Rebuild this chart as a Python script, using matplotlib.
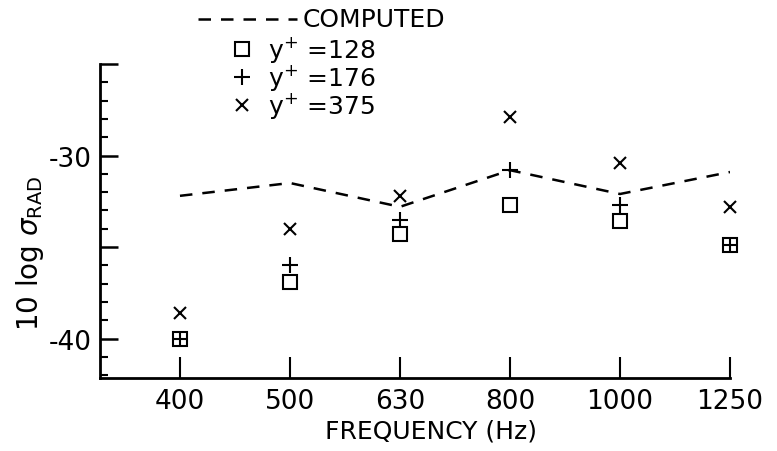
import matplotlib
matplotlib.use("Agg")
import matplotlib.pyplot as plt
from matplotlib.lines import Line2D
import numpy as np

# frequency bands (equally spaced on the plot)
freqs = ['400', '500', '630', '800', '1000', '1250']

# values (10 log sigma_RAD)
computed = [-32.2, -31.5, -32.8, -30.8, -32.1, -30.9]
yp_128 = [-40.0, -36.9, -34.3, -32.7, -33.6, -34.9]
yp_176 = [-40.0, -36.0, -33.5, -30.8, -32.7, -34.9]
yp_375 = [-38.6, -34.0, -32.2, -27.9, -30.4, -32.8]

plt.rcParams['font.family'] = 'DejaVu Sans'

fig = plt.figure(figsize=(7.77, 4.52), dpi=100)
ax = fig.add_axes([100/777, 1 - 379/452, 630/777, 314/452])

x = np.arange(len(freqs))

ax.plot(x, computed, color='black', linestyle=(0, (5, 4)), linewidth=1.8)
ax.plot(x, yp_128, linestyle='none', marker='s', markersize=10,
        markerfacecolor='none', markeredgecolor='black', markeredgewidth=1.5, clip_on=False)
ax.plot(x, yp_176, linestyle='none', marker='+', markersize=12,
        color='black', markeredgewidth=1.5, clip_on=False)
ax.plot(x, yp_375, linestyle='none', marker='x', markersize=9,
        color='black', markeredgewidth=1.5, clip_on=False)

ax.set_xlim(-0.727, 5)
ax.set_ylim(-42.15, -25)

for side in ['top', 'right']:
    ax.spines[side].set_visible(False)
for side in ['left', 'bottom']:
    ax.spines[side].set_linewidth(2)

ax.set_xticks(x)
ax.set_xticklabels(freqs, fontsize=19)
ax.set_yticks([-40, -35, -30, -25])
ax.set_yticklabels(['-40', '', '-30', ''], fontsize=19)
ax.set_yticks(np.arange(-42, -24), minor=True)
ax.tick_params(axis='x', direction='in', length=15, width=1.5, pad=7)
ax.tick_params(axis='y', which='major', direction='in', length=13, width=1.8, pad=6)
ax.tick_params(axis='y', which='minor', direction='in', length=6, width=1.5)

fig.text(0.555, 0.045, 'FREQUENCY (Hz)', fontsize=18, ha='center', va='center')
fig.text(0.038, 0.44, r'10 log $\sigma_{\mathrm{RAD}}$', fontsize=20,
         rotation=90, ha='center', va='center')

# hand-drawn legend at the top
leg_y = [1 - 20/452, 1 - 50/452, 1 - 78/452, 1 - 106/452]
fig.add_artist(Line2D([198/777, 297/777], [leg_y[0], leg_y[0]], color='black',
                      linestyle=(0, (5, 4)), linewidth=1.8))
fig.text(303/777, leg_y[0], 'COMPUTED', fontsize=18, va='center')
mk = [('s', 10, 'none'), ('+', 12, 'black'), ('x', 9, 'black')]
labels = [r'y$^{+}$ =128', r'y$^{+}$ =176', r'y$^{+}$ =375']
for i in range(3):
    m, s, fc = mk[i]
    fig.add_artist(Line2D([242/777], [leg_y[i + 1]], marker=m, markersize=s,
                          markerfacecolor=fc, markeredgecolor='black',
                          markeredgewidth=1.5, linestyle='none'))
    fig.text(268/777, leg_y[i + 1], labels[i], fontsize=18, va='center')

fig.savefig('out.png', dpi=100)
